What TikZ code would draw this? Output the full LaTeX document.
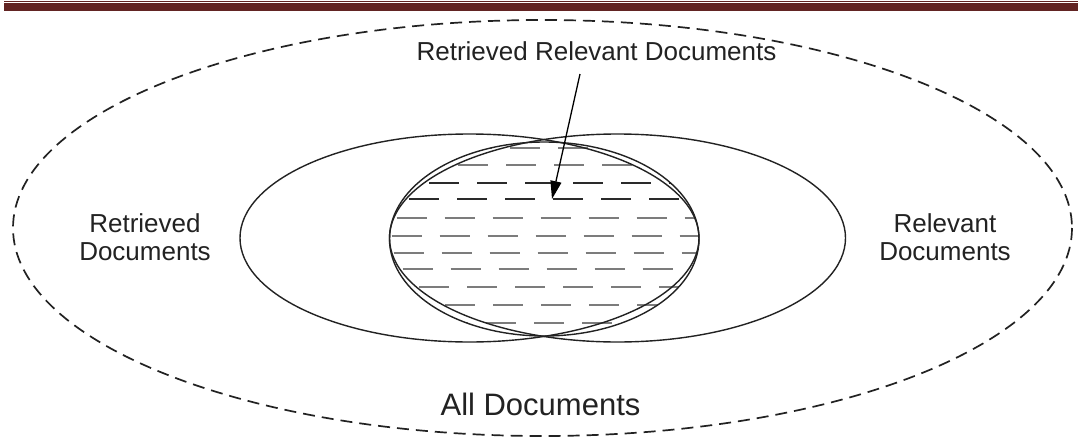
\documentclass[tikz,border=0pt]{standalone}
\usepackage{fontspec}
\setmainfont{Liberation Sans}
\usetikzlibrary{arrows.meta}
\definecolor{bandred}{HTML}{622423}
\definecolor{ink}{HTML}{222222}
\definecolor{hatchgray}{HTML}{7C7C7C}
\definecolor{hatchdark}{HTML}{2A2A2A}
\begin{document}
\begin{tikzpicture}[x=1pt,y=-1pt,
  setbox/.style={draw=ink,line width=1.4pt},
  universe/.style={draw=ink,line width=1.7pt,dash pattern=on 12pt off 7pt},
  hatch/.style={draw=hatchgray,line width=2.1pt,dash pattern=on 30pt off 18pt},
  hatchdk/.style={draw=hatchdark,line width=1.4pt,dash pattern=on 30pt off 18pt},
  lbl/.style={text=ink,inner sep=0pt,font=\fontsize{26}{28}\selectfont,align=center},
  biglbl/.style={text=ink,inner sep=0pt,font=\fontsize{31}{34}\selectfont},
  pointer/.style={draw=black,line width=1.3pt,-{Triangle[length=18pt,width=11pt]}}]
\useasboundingbox (0,0) rectangle (1082,442);
\fill[white] (0,0) rectangle (1082,442);

% header rule: thin line over a thick band
\fill[bandred] (4,0.8) rectangle (1078,1.9);
\fill[bandred] (4,3.3) rectangle (1078,10.7);

% all documents
\draw[universe] (542.5,228) ellipse [x radius=529.5, y radius=208];

% hatched overlap region
\begin{scope}
  \clip (544.25,239) ellipse [x radius=154.75, y radius=97];
  \foreach \yy/\ph in {148/30,165/26,218/12.5,236/7.5,253/9.5,269/18.5,287/35,305/13,323/6}
    \draw[hatch] (336+\ph,\yy) -- (760,\yy);
  \foreach \yy/\ph in {183/45,199/25}
    \draw[hatchdk] (336+\ph,\yy) -- (760,\yy);
\end{scope}
\draw[setbox] (544.25,239) ellipse [x radius=154.75, y radius=97];

% retrieved and relevant sets
\draw[setbox] (469.5,238) ellipse [x radius=229.5, y radius=104];
\draw[setbox] (617.5,238) ellipse [x radius=228, y radius=104];

% labels
\node[lbl] (retrieved) at (145,237) {Retrieved\\Documents};
\node[lbl] (relevant) at (945,237) {Relevant\\Documents};
\node[lbl,anchor=base] (overlap) at (596.5,60) {Retrieved Relevant Documents};
\node[biglbl,anchor=base] (all) at (540.5,415) {All Documents};

% pointer into the overlap
\coordinate (tail) at (580,74);
\coordinate (tip) at (552,199);
\draw[pointer] (tail) -- (tip);
\end{tikzpicture}
\end{document}
